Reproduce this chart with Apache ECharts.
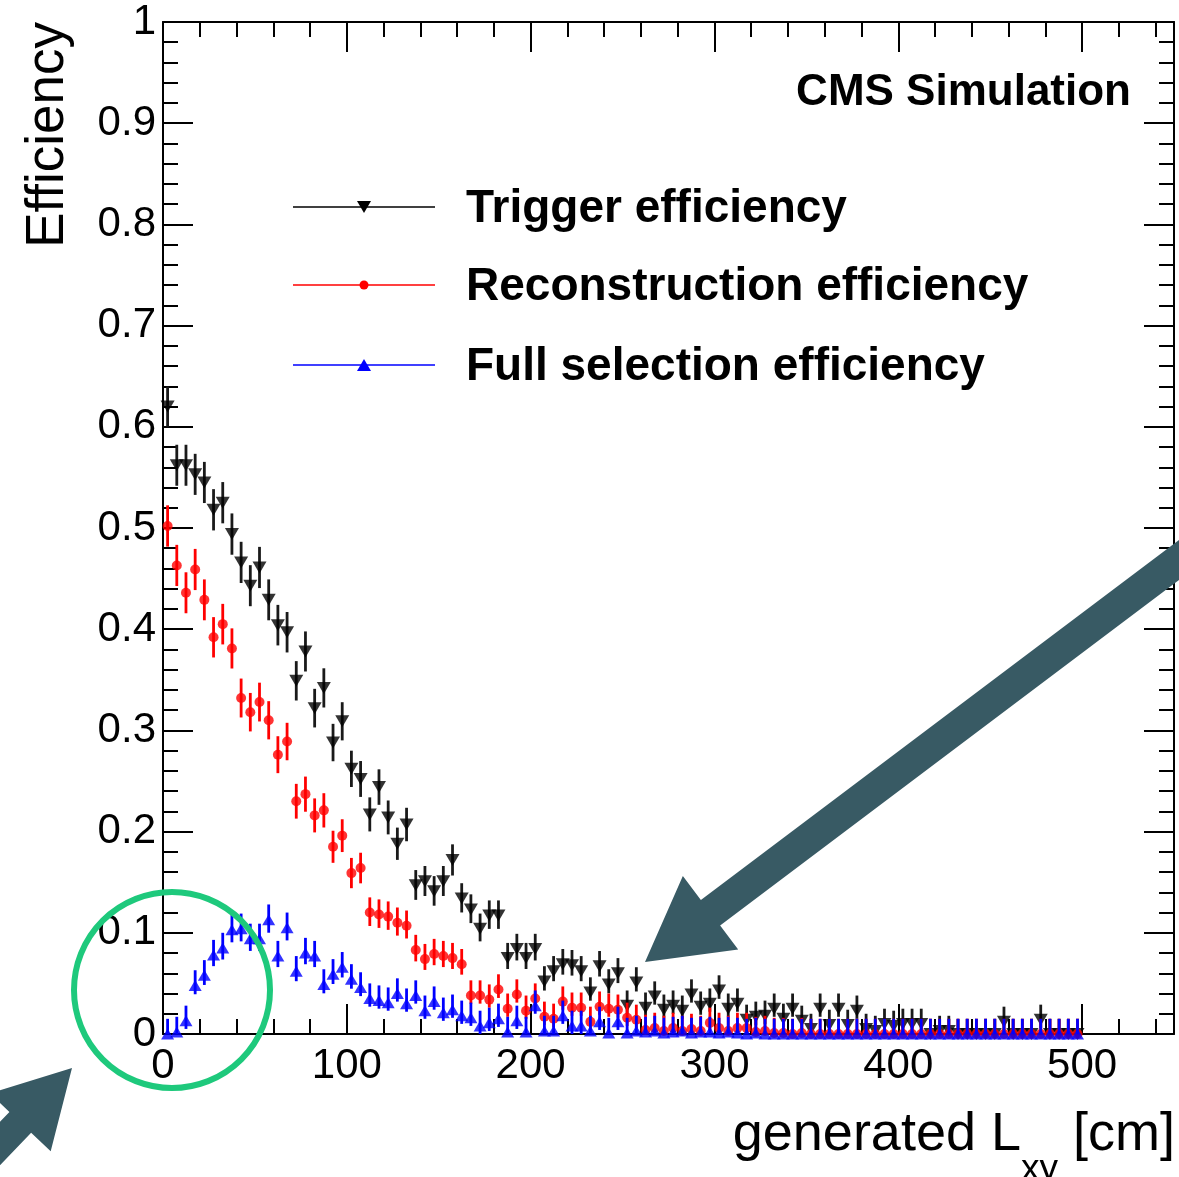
<!DOCTYPE html>
<html><head><meta charset="utf-8">
<script src="https://cdn.jsdelivr.net/npm/echarts@6/dist/echarts.min.js"></script>
<style>html,body{margin:0;padding:0;background:#fff}#c{width:1179px;height:1177px}</style>
</head><body><div id="c"></div>
<script>
// bins: 5 cm wide, 0..500 cm
const binStart = 0;
const binWidth = 5;
const nBins = 100;

const triggerEff = [
 0.620,0.562,0.562,0.553,0.545,0.518,0.525,0.494,0.466,0.443,
 0.461,0.429,0.404,0.397,0.349,0.378,0.322,0.342,0.288,0.309,
 0.262,0.252,0.217,0.244,0.214,0.188,0.207,0.147,0.151,0.141,
 0.151,0.172,0.134,0.123,0.104,0.117,0.117,0.075,0.084,0.075,
 0.084,0.052,0.062,0.069,0.068,0.062,0.041,0.067,0.049,0.060,
 0.028,0.051,0.026,0.037,0.024,0.028,0.023,0.039,0.027,0.030,
 0.043,0.025,0.030,0.014,0.017,0.018,0.025,0.015,0.025,0.013,
 0.005,0.025,0.009,0.025,0.009,0.023,0.005,0.003,0.010,0.008,
 0.010,0.010,0.010,0.000,0.003,0.003,0.000,0.000,0.000,0.000,
 0.000,0.012,0.000,0.000,0.000,0.014,0.000,0.000,0.000,0.000
];
const recoEff = [
 0.502,0.463,0.436,0.459,0.429,0.392,0.405,0.381,0.332,0.318,
 0.328,0.310,0.276,0.289,0.230,0.237,0.216,0.221,0.185,0.196,
 0.159,0.164,0.120,0.118,0.116,0.110,0.107,0.083,0.074,0.079,
 0.077,0.075,0.069,0.038,0.038,0.034,0.044,0.025,0.039,0.023,
 0.035,0.017,0.015,0.032,0.026,0.026,0.012,0.027,0.025,0.024,
 0.016,0.014,0.004,0.006,0.003,0.006,0.003,0.005,0.003,0.011,
 0.006,0.003,0.006,0.006,0.002,0.003,0.001,0.001,0.000,0.001,
 0.000,0.000,0.000,0.000,0.000,0.000,0.000,0.000,0.000,0.000,
 0.000,0.000,0.000,0.000,0.000,0.000,0.000,0.000,0.000,0.000,
 0.000,0.000,0.000,0.000,0.000,0.000,0.000,0.000,0.000,0.000
];
const fullEff = [
 0.000,0.002,0.013,0.048,0.058,0.078,0.085,0.103,0.104,0.094,
 0.094,0.113,0.077,0.105,0.062,0.080,0.077,0.049,0.059,0.066,
 0.054,0.046,0.035,0.033,0.031,0.040,0.030,0.038,0.023,0.032,
 0.021,0.024,0.018,0.016,0.008,0.011,0.015,0.002,0.013,0.002,
 0.028,0.003,0.003,0.018,0.008,0.008,0.003,0.012,0.001,0.012,
 0.001,0.003,0.002,0.003,0.001,0.002,0.003,0.001,0.002,0.002,
 0.001,0.002,0.001,0.000,0.001,0.000,0.000,0.000,0.000,0.000,
 0.000,0.000,0.000,0.000,0.000,0.000,0.000,0.000,0.000,0.000,
 0.000,0.000,0.000,0.000,0.000,0.000,0.000,0.000,0.000,0.000,
 0.000,0.000,0.000,0.000,0.000,0.000,0.000,0.000,0.000,0.000
];
const xTickValues = [0,100,200,300,400,500];
const yTickLabels = ['0','0.1','0.2','0.3','0.4','0.5','0.6','0.7','0.8','0.9','1'];
const seriesNames = ['Trigger efficiency','Reconstruction efficiency','Full selection efficiency'];
const seriesColors = ['#000000','#ff0000','#0000ff'];

const centers = [];
for (let i = 0; i < nBins; i++) centers.push(binStart + binWidth * (i + 0.5));

const NEV = 600;
function errData(vals) {
  return vals.map((p, i) => {
    const e = Math.sqrt(p * (1 - p) / NEV);
    const up = Math.max(e, 0.015);
    const dn = Math.min(p, Math.max(e, 0.008));
    return [centers[i], p - dn, p + up];
  });
}
function errSeries(vals, color, z) {
  return {
    type: 'custom', z: z, silent: true,
    encode: { x: 0, y: [1, 2] },
    data: errData(vals),
    renderItem: function (params, api) {
      const a = api.coord([api.value(0), api.value(1)]);
      const b = api.coord([api.value(0), api.value(2)]);
      return { type: 'line', shape: { x1: a[0], y1: a[1], x2: b[0], y2: b[1] },
               style: { stroke: color, lineWidth: 2.8 } };
    }
  };
}
function pts(vals) { return vals.map((v, i) => [centers[i], v]); }

const FONT = '"Liberation Sans", Arial, Helvetica, sans-serif';
const black = '#000';

function xAx(pos, labels) {
  return {
    type: 'value', position: pos, min: 0, max: 550, interval: 100,
    axisLine: { show: true, onZero: false, lineStyle: { color: black, width: 2 } },
    axisTick: { show: true, inside: true, length: 30, lineStyle: { color: black, width: 2 } },
    minorTick: { show: true, splitNumber: 5, length: 15, lineStyle: { color: black, width: 2 } },
    splitLine: { show: false }, minorSplitLine: { show: false },
    axisLabel: { show: labels, fontSize: 42, fontFamily: FONT, color: black, margin: 11,
      showMaxLabel: true, hideOverlap: false,
      formatter: v => (xTickValues.indexOf(Math.round(v)) >= 0 ? String(Math.round(v)) : '') }
  };
}
function yAx(pos, labels) {
  return {
    type: 'value', position: pos, min: 0, max: 1, interval: 0.1,
    axisLine: { show: true, onZero: false, lineStyle: { color: black, width: 2 } },
    axisTick: { show: true, inside: true, length: 30, lineStyle: { color: black, width: 2 } },
    minorTick: { show: true, splitNumber: 5, length: 15, lineStyle: { color: black, width: 2 } },
    splitLine: { show: false }, minorSplitLine: { show: false },
    axisLabel: { show: labels, fontSize: 42, fontFamily: FONT, color: black, margin: 7,
      hideOverlap: false,
      formatter: v => yTickLabels[Math.round(v * 10)] }
  };
}

const arrowColor = '#385a64';
const circleColor = '#1ec97c';

function arrowPoly(tip, dir, headLen, headHalf, shaftHalf, shaftLen) {
  const n = Math.hypot(dir[0], dir[1]); const d = [dir[0] / n, dir[1] / n];
  const p = [-d[1], d[0]];
  const bc = [tip[0] + d[0] * headLen, tip[1] + d[1] * headLen];
  const fc = [bc[0] + d[0] * shaftLen, bc[1] + d[1] * shaftLen];
  return [tip,
    [bc[0] + p[0] * headHalf, bc[1] + p[1] * headHalf],
    [bc[0] + p[0] * shaftHalf, bc[1] + p[1] * shaftHalf],
    [fc[0] + p[0] * shaftHalf, fc[1] + p[1] * shaftHalf],
    [fc[0] - p[0] * shaftHalf, fc[1] - p[1] * shaftHalf],
    [bc[0] - p[0] * shaftHalf, bc[1] - p[1] * shaftHalf],
    [bc[0] - p[0] * headHalf, bc[1] - p[1] * headHalf]];
}

const legendY = [207, 285, 365];
const graphics = [];
legendY.forEach((y, k) => {
  graphics.push({ type: 'line', z: 50, shape: { x1: 293, y1: y, x2: 435, y2: y },
    style: { stroke: seriesColors[k], lineWidth: 1.6 } });
  graphics.push({ type: 'text', z: 50, x: 466, y: y + 2,
    style: { text: seriesNames[k], font: 'bold 46px ' + FONT, fill: black,
      textAlign: 'left', textVerticalAlign: 'middle' } });
});
graphics.push({ type: 'polygon', z: 51, shape: { points: [[357, 201], [371, 201], [364, 213]] }, style: { fill: '#000' } });
graphics.push({ type: 'circle', z: 51, shape: { cx: 364, cy: 285, r: 4.5 }, style: { fill: '#ff0000' } });
graphics.push({ type: 'polygon', z: 51, shape: { points: [[357, 371], [371, 371], [364, 359]] }, style: { fill: '#0000ff' } });
graphics.push({ type: 'text', z: 50, x: 1131, y: 93,
  style: { text: 'CMS Simulation', font: 'bold 44px ' + FONT, fill: black, textAlign: 'right', textVerticalAlign: 'middle' } });
graphics.push({ type: 'text', z: 50, x: 48, y: 22, rotation: Math.PI / 2,
  style: { text: 'Efficiency', font: '53px ' + FONT, fill: black, textAlign: 'right', textVerticalAlign: 'middle' } });
graphics.push({ type: 'text', z: 50, x: 1175, y: 1108,
  style: { rich: {
      a: { fontSize: 54, fontFamily: FONT, fill: black, lineHeight: 54, verticalAlign: 'top' },
      b: { fontSize: 37, fontFamily: FONT, fill: black, lineHeight: 80, verticalAlign: 'bottom' } },
    text: '{a|generated L}{b|xy}{a| [cm]}', textAlign: 'right', textVerticalAlign: 'top' } });
graphics.push({ type: 'circle', z: 60, shape: { cx: 172, cy: 990, r: 98 },
  style: { fill: 'none', stroke: circleColor, lineWidth: 6 } });
graphics.push({ type: 'polygon', z: 60,
  shape: { points: arrowPoly([645, 962], [534, -402], 82, 46, 16, 620) }, style: { fill: arrowColor } });
graphics.push({ type: 'polygon', z: 60,
  shape: { points: arrowPoly([72, 1068], [-1, 1.05], 75, 42, 15, 120) }, style: { fill: arrowColor } });

const option = {
  animation: false,
  backgroundColor: '#fff',
  grid: { left: 163, right: 5, top: 22, bottom: 143, containLabel: false, outerBoundsMode: 'none' },
  xAxis: [xAx('bottom', true), xAx('top', false)],
  yAxis: [yAx('left', true), yAx('right', false)],
  series: [
    errSeries(triggerEff, '#1a1a1a', 2),
    { type: 'scatter', name: seriesNames[0], z: 3, data: pts(triggerEff), symbol: 'triangle', symbolRotate: 180,
      symbolSize: [14, 12], itemStyle: { color: '#000' } },
    errSeries(recoEff, '#ff0000', 4),
    { type: 'scatter', name: seriesNames[1], z: 5, data: pts(recoEff), symbol: 'circle',
      symbolSize: 10, itemStyle: { color: '#ff0000' } },
    errSeries(fullEff, '#0000ff', 6),
    { type: 'scatter', name: seriesNames[2], z: 7, data: pts(fullEff), symbol: 'triangle',
      symbolSize: [13, 11], itemStyle: { color: '#0000ff' } }
  ],
  graphic: graphics
};
const chart = echarts.init(document.getElementById('c'), null, { renderer: 'canvas' });
chart.setOption(option);
</script>
</body></html>
